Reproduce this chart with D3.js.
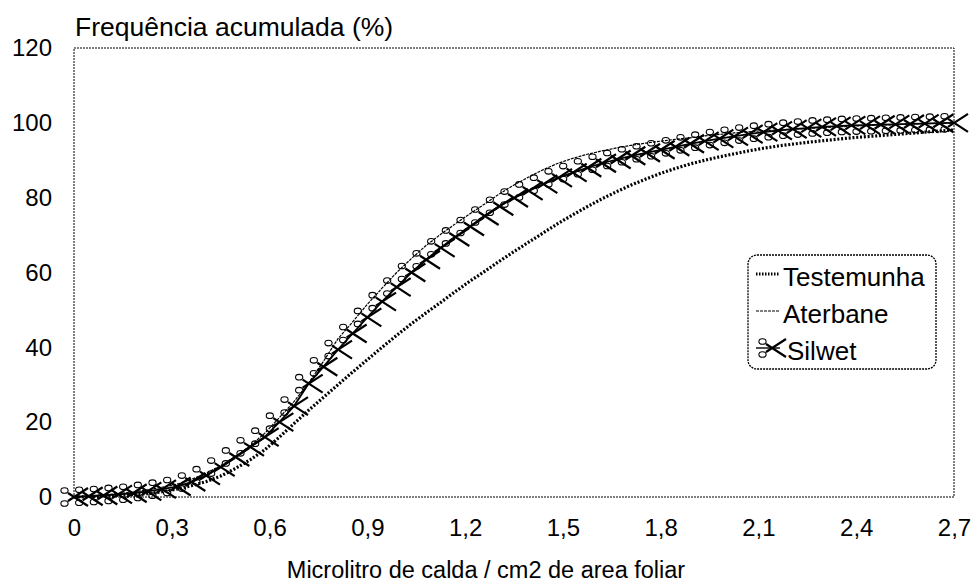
<!DOCTYPE html>
<html>
<head>
<meta charset="utf-8">
<script src="https://cdn.jsdelivr.net/npm/d3@7"></script>
<style>
  body { margin: 0; background: #fff; }
  text { font-family: "Liberation Sans", Arial, sans-serif; fill: #000; }
</style>
</head>
<body>
<div id="chart"></div>
<script>
// x categories (microlitro / cm2)
var xValues = [0, 0.045, 0.09, 0.135, 0.18, 0.225, 0.27, 0.315, 0.36, 0.405, 0.45, 0.495, 0.54, 0.585, 0.63, 0.675,
  0.72, 0.765, 0.81, 0.855, 0.9, 0.945, 0.99, 1.035, 1.08, 1.125, 1.17, 1.215, 1.26, 1.305, 1.35, 1.395, 1.44,
  1.485, 1.53, 1.575, 1.62, 1.665, 1.71, 1.755, 1.8, 1.845, 1.89, 1.935, 1.98, 2.025, 2.07, 2.115, 2.16, 2.205,
  2.25, 2.295, 2.34, 2.385, 2.43, 2.475, 2.52, 2.565, 2.61, 2.655, 2.7];

var testemunha = [0, 0.1, 0.25, 0.4, 0.6, 0.9, 1.4, 2.1, 3, 4.1, 5.6, 7.6, 9.9, 12.6, 16, 19.6, 23.2, 26.6, 30,
  33.4, 36.7, 40, 43.2, 46.3, 49.2, 52, 54.9, 57.7, 60.3, 63, 65.6, 68.1, 70.6, 73.1, 75.4, 77.6, 79.7, 81.6,
  83.4, 85, 86.5, 87.8, 89, 90, 90.9, 91.7, 92.5, 93.2, 93.8, 94.3, 94.8, 95.2, 95.6, 96, 96.3, 96.6, 96.9,
  97.2, 97.5, 97.8, 98.1];

var aterbane = [0, 0.3, 0.6, 0.9, 1.3, 1.9, 2.6, 3.4, 4.7, 6.3, 8.4, 10.8, 13.6, 17, 21.2, 25.5, 30.5, 36.2, 42.3,
  46.8, 51.5, 55.8, 60, 63.7, 67.2, 70.2, 73, 75.7, 78.3, 81, 83.4, 85.5, 87.5, 89.2, 90.5, 91.6, 92.5, 93.3,
  94, 94.6, 95.1, 95.6, 96, 96.5, 96.9, 97.3, 97.6, 97.9, 98.1, 98.3, 98.5, 98.7, 98.9, 99.1, 99.3, 99.4, 99.5,
  99.7, 99.8, 99.9, 100];

var silwet = [0, 0.2, 0.4, 0.7, 1.0, 1.5, 2.1, 2.8, 4.0, 5.7, 8, 10.7, 13.4, 16, 20, 24.3, 30.3, 34.8, 39.4, 43.7,
  48, 52.2, 56.1, 60, 63.4, 66.6, 69.5, 72.3, 75.1, 77.7, 79.9, 81.8, 83.6, 85.3, 86.7, 88, 89.2, 90.2, 91.2, 92,
  92.8, 93.6, 94.4, 95.1, 95.8, 96.4, 97, 97.5, 97.9, 98.3, 98.6, 98.9, 99.1, 99.3, 99.4, 99.5, 99.6, 99.7, 99.8,
  99.9, 100];

var xTicks = [0, 0.3, 0.6, 0.9, 1.2, 1.5, 1.8, 2.1, 2.4, 2.7];
var yTicks = [0, 20, 40, 60, 80, 100, 120];
var seriesNames = ["Testemunha", "Aterbane", "Silwet"];

var width = 975, height = 586;
var margin = {top: 48, right: 21, bottom: 89, left: 74};

var svg = d3.select("#chart").append("svg")
  .attr("width", width)
  .attr("height", height);

var x = d3.scaleLinear().domain([0, 2.7]).range([margin.left, width - margin.right]);
var y = d3.scaleLinear().domain([0, 120]).range([height - margin.bottom, margin.top]);

var fmt = function(d) { return d3.format(".1f")(d).replace(".0", "").replace(".", ","); };

// plot area border (dotted)
svg.append("rect")
  .attr("x", x(0)).attr("y", y(120))
  .attr("width", x(2.7) - x(0)).attr("height", y(0) - y(120))
  .attr("fill", "none")
  .attr("stroke", "#000")
  .attr("stroke-width", 1)
  .attr("stroke-dasharray", "2,1");

// axes, no ticks or domain lines
svg.append("g")
  .attr("transform", "translate(0," + y(0) + ")")
  .call(d3.axisBottom(x).tickValues(xTicks).tickFormat(function(d) { return d === 0 ? "0" : fmt(d); }).tickSize(0).tickPadding(22));
svg.append("g")
  .attr("transform", "translate(" + (x(0) - 22) + ",0)")
  .call(d3.axisLeft(y).tickValues(yTicks).tickSize(0).tickPadding(0));
svg.selectAll(".domain").remove();
svg.selectAll(".tick text")
  .style("font-family", "'Liberation Sans', Arial, sans-serif")
  .style("font-size", "24px")
  .attr("fill", "#000");

svg.append("text")
  .attr("x", x(0) + 1).attr("y", 36)
  .style("font-size", "26.5px")
  .text("Frequência acumulada (%)");

svg.append("text")
  .attr("x", (x(0) + x(2.7)) / 2 - 28).attr("y", 578)
  .attr("text-anchor", "middle")
  .style("font-size", "23.5px")
  .text("Microlitro de calda / cm2 de area foliar");

var line = d3.line()
  .x(function(d) { return x(d[0]); })
  .y(function(d) { return y(d[1]); });

function pairs(vals) { return xValues.map(function(v, i) { return [v, vals[i]]; }); }

svg.append("path")
  .datum(pairs(testemunha))
  .attr("d", line)
  .attr("fill", "none")
  .attr("stroke", "#000")
  .attr("stroke-width", 3.2)
  .attr("stroke-dasharray", "2,1.8");

svg.append("path")
  .datum(pairs(aterbane))
  .attr("d", line)
  .attr("fill", "none")
  .attr("stroke", "#000")
  .attr("stroke-width", 1.2)
  .attr("stroke-dasharray", "3,1");

svg.append("path")
  .datum(pairs(silwet))
  .attr("d", line)
  .attr("fill", "none")
  .attr("stroke", "#000")
  .attr("stroke-width", 1.8);

// scissors marker: handles left, blades opening to the right
function scissors(g) {
  g.append("path")
    .attr("d", "M-6,-4L14,9M-6,4L14,-9")
    .attr("stroke", "#000")
    .attr("stroke-width", 2.2)
    .attr("fill", "none");
  g.append("ellipse").attr("cx", -9.5).attr("cy", -6.5).attr("rx", 3.6).attr("ry", 2.8)
    .attr("fill", "none").attr("stroke", "#000").attr("stroke-width", 1.1);
  g.append("ellipse").attr("cx", -9.5).attr("cy", 6.5).attr("rx", 3.6).attr("ry", 2.8)
    .attr("fill", "none").attr("stroke", "#000").attr("stroke-width", 1.1);
}

svg.append("g").selectAll("g")
  .data(pairs(silwet))
  .enter().append("g")
  .attr("transform", function(d) { return "translate(" + x(d[0]) + "," + y(d[1]) + ")"; })
  .each(function() { scissors(d3.select(this)); });

// legend
var lg = svg.append("g");
lg.append("rect")
  .attr("x", 748).attr("y", 255).attr("width", 188).attr("height", 114)
  .attr("rx", 9).attr("ry", 9)
  .attr("fill", "#fff")
  .attr("stroke", "#000")
  .attr("stroke-width", 1.3)
  .attr("stroke-dasharray", "2,1");

var sampleY = [274, 311, 348];
seriesNames.forEach(function(name, i) {
  var sy = sampleY[i];
  var sample = lg.append("line")
    .attr("x1", 756).attr("x2", 780).attr("y1", sy).attr("y2", sy)
    .attr("stroke", "#000");
  if (i === 0) sample.attr("stroke-width", 3).attr("stroke-dasharray", "1.5,1.5");
  if (i === 1) sample.attr("stroke-width", 1.2).attr("stroke-dasharray", "3,1");
  if (i === 2) {
    sample.attr("stroke-width", 1.4);
    scissors(lg.append("g").attr("transform", "translate(772," + sy + ")"));
  }
  lg.append("text")
    .attr("x", i === 2 ? 787 : 783).attr("y", sy + 12)
    .style("font-size", "26px")
    .text(name);
});
</script>
</body>
</html>
